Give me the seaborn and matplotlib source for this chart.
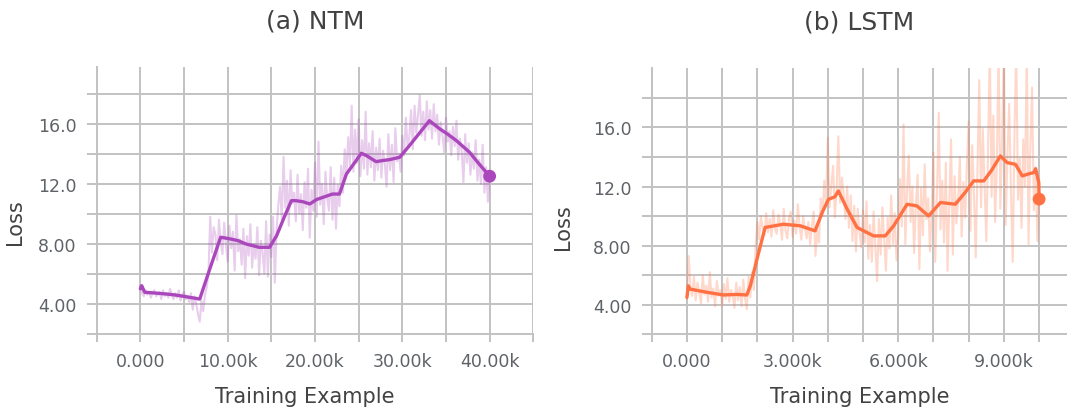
import numpy as np
import pandas as pd
import matplotlib
matplotlib.use("Agg")
import matplotlib.pyplot as plt
from matplotlib.ticker import FixedLocator, FixedFormatter
import seaborn as sns

# ---------------- data ----------------
# NTM: raw loss samples (every 200 examples) and the smoothed curve
ntm_raw_step = list(range(0, 40001, 200))
ntm_raw_loss = [
    5.2, 4.7, 4.5, 4.9, 4.6, 4.8, 4.4, 4.7, 4.9, 4.5,
    4.6, 4.8, 4.3, 4.9, 4.5, 4.7, 4.4, 5.0, 4.6, 4.3,
    4.7, 4.4, 4.9, 4.2, 4.6, 4.8, 4.3, 4.5, 4.1, 4.7,
    3.6, 4.5, 4.0, 3.3, 2.8, 4.2, 3.5, 4.6, 5.1, 6.0,
    9.8, 7.4, 9.1, 8.6, 6.9, 9.6, 8.1, 7.3, 9.4, 8.0,
    6.8, 9.2, 7.7, 8.8, 6.2, 9.9, 7.5, 8.3, 6.6, 9.0,
    5.7, 8.5, 7.2, 9.3, 6.4, 8.0, 7.0, 9.1, 5.9, 8.2,
    7.4, 6.0, 9.5, 5.8, 8.6, 7.1, 9.8, 5.4, 8.9, 10.6,
    11.8, 9.6, 13.8, 10.4, 12.2, 9.2, 12.9, 10.7, 11.4, 9.5,
    12.6, 10.0, 11.3, 8.9, 12.1, 10.4, 13.0, 8.4, 11.6, 10.2,
    13.4, 9.8, 14.8, 10.6, 12.0, 9.3, 12.8, 11.0, 10.2, 13.1,
    9.6, 12.4, 9.0, 11.9, 10.5, 13.2, 11.4, 14.3, 12.6, 15.1,
    13.2, 17.2, 12.8, 15.6, 13.4, 16.3, 12.5, 14.9, 13.0, 16.8,
    12.6, 14.7, 13.1, 15.5, 12.2, 14.4, 12.9, 15.0, 12.4, 14.2,
    13.3, 11.8, 15.3, 12.9, 14.6, 12.1, 15.7, 13.5, 14.0, 12.8,
    15.2, 13.9, 16.4, 14.5, 15.1, 16.9, 14.3, 17.2, 15.4, 16.6,
    17.9, 15.2, 16.8, 14.9, 17.5, 15.6, 16.9, 15.0, 17.3, 15.5,
    16.6, 14.6, 16.1, 15.2, 14.1, 16.4, 14.8, 15.5, 13.9, 15.8,
    14.5, 16.2, 13.6, 15.0, 14.2, 12.1, 15.3, 13.4, 14.7, 12.6,
    14.1, 13.0, 14.9, 12.2, 13.6, 12.0, 14.6, 11.4, 13.1, 10.8,
    12.6,
]
ntm_smooth_step = [
    0, 150, 500, 1500, 2900, 4000, 5000, 6800, 8000, 9200,
    10200, 11200, 12100, 13600, 14800, 15600, 16500, 17300, 17800, 18600,
    19400, 20200, 20900, 22000, 22800, 23600, 24700, 25300, 25900, 27000,
    27800, 28500, 29700, 30800, 32000, 33100, 34300, 35200, 36200, 37700,
    38800, 40000,
]
ntm_smooth_loss = [
    5.0, 5.2, 4.76, 4.72, 4.65, 4.58, 4.49, 4.31, 6.4, 8.43,
    8.33, 8.2, 7.98, 7.76, 7.76, 8.53, 9.8, 10.87, 10.87, 10.8,
    10.65, 10.95, 11.09, 11.31, 11.31, 12.65, 13.53, 14.03, 13.87, 13.47,
    13.55, 13.6, 13.76, 14.53, 15.4, 16.2, 15.65, 15.3, 14.87, 14.09,
    13.31, 12.5,
]

# LSTM: raw loss samples (every 50 examples) and the smoothed curve
lstm_raw_step = list(range(0, 10001, 50))
lstm_raw_loss = [
    4.4, 7.3, 5.2, 4.6, 5.9, 4.3, 5.5, 4.8, 4.1, 6.0,
    4.7, 5.3, 4.2, 6.2, 4.5, 5.1, 3.9, 5.6, 4.6, 5.0,
    3.9, 5.4, 4.4, 5.8, 4.2, 5.0, 4.6, 3.8, 5.5, 4.3,
    5.2, 3.9, 5.7, 4.4, 3.7, 5.9, 4.5, 6.2, 5.0, 7.9,
    9.6, 8.4, 10.0, 9.2, 8.7, 10.2, 8.9, 9.8, 8.6, 10.4,
    9.1, 8.8, 10.1, 9.5, 8.4, 10.5, 9.0, 8.5, 9.9, 10.3,
    8.6, 9.7, 8.8, 10.8, 9.3, 8.4, 10.0, 9.1, 8.5, 9.6,
    8.1, 9.4, 10.3, 7.3, 9.0, 8.2, 11.2, 10.0, 12.4, 10.8,
    15.3, 10.6, 12.1, 13.4, 9.9, 11.8, 15.4, 10.9, 12.6, 11.5,
    9.8, 12.0, 9.2, 11.4, 8.3, 10.7, 7.6, 10.5, 8.9, 7.9,
    10.4, 8.2, 11.0, 7.1, 9.4, 6.9, 10.3, 8.0, 5.6, 9.8,
    7.4, 10.6, 8.5, 6.3, 9.9, 7.8, 11.4, 8.1, 10.2, 7.0,
    8.6, 12.5, 9.3, 16.2, 8.1, 11.7, 14.1, 9.6, 12.0, 7.5,
    10.8, 12.8, 6.4, 11.9, 8.7, 13.5, 9.8, 11.2, 7.6, 10.4,
    14.3, 6.9, 11.5, 17.0, 9.1, 12.4, 8.2, 13.6, 6.3, 10.9,
    15.2, 7.4, 12.7, 9.5, 11.1, 14.0, 8.6, 12.3, 9.9, 13.5,
    16.4, 9.0, 14.8, 11.6, 7.2, 13.1, 19.2, 10.6, 15.9, 12.2,
    8.3, 14.4, 21.5, 11.3, 16.8, 9.6, 13.7, 21.5, 10.5, 15.3,
    21.5, 9.4, 14.1, 17.6, 11.8, 6.9, 15.5, 21.5, 11.1, 13.9,
    9.2, 15.2, 12.0, 21.5, 8.1, 14.6, 18.7, 10.4, 13.3, 8.3,
    11.2,
]
lstm_smooth_step = [
    0, 40, 90, 570, 1040, 1400, 1700, 1800, 1990, 2220,
    2740, 3220, 3640, 3840, 4020, 4200, 4300, 4550, 4830, 5300,
    5630, 5870, 6250, 6530, 6860, 7200, 7620, 7900, 8140, 8430,
    8650, 8900, 9090, 9330, 9520, 9700, 9850, 9900, 9990, 10000,
]
lstm_smooth_loss = [
    4.5, 5.28, 5.06, 4.84, 4.66, 4.7, 4.66, 5.28, 7.09, 9.23,
    9.45, 9.34, 9.0, 10.24, 11.14, 11.3, 11.7, 10.47, 9.23, 8.66,
    8.66, 9.34, 10.8, 10.69, 10.01, 10.92, 10.8, 11.6, 12.38, 12.38,
    13.1, 14.07, 13.62, 13.5, 12.72, 12.85, 12.95, 13.2, 12.27, 11.15,
]

titles = ["(a) NTM", "(b) LSTM"]
ntm_xticks = list(range(-5000, 45001, 5000))
ntm_xlabels = ["", "0.000", "", "10.00k", "", "20.00k", "", "30.00k", "", "40.00k", ""]
lstm_xticks = list(range(-1000, 11001, 1000))
lstm_xlabels = ["", "0.000", "", "", "3.000k", "", "", "6.000k", "", "", "9.000k", "", ""]
yticks = [2, 4, 6, 8, 10, 12, 14, 16, 18]
ylabels = ["", "4.00", "", "8.00", "", "12.0", "", "16.0", ""]

# ---------------- style ----------------
sns.set_theme(style="whitegrid")
plt.rcParams["font.family"] = ["DejaVu Sans"]

GRID = "#c2c2c2"
TICKTXT = "#5f6368"
TXT = "#424242"
PURPLE = "#ab47bc"
ORANGE = "#ff7043"

fig = plt.figure(figsize=(10.67, 4.14), dpi=100)
W, H = 1067.0, 414.0
ax1 = fig.add_axes([96.7 / W, (H - 334.7) / H, 436.6 / W, 266.4 / H])
ax2 = fig.add_axes([651.7 / W, (H - 335.3) / H, 415.6 / W, 266.0 / H])


def draw(ax, raw_x, raw_y, sm_x, sm_y, color):
    raw = pd.DataFrame({"step": raw_x, "loss": raw_y})
    sm = pd.DataFrame({"step": sm_x, "loss": sm_y})
    # faint raw trace underneath, smoothed trace on top, dot at the last value
    sns.lineplot(data=raw, x="step", y="loss", ax=ax, color=color,
                 alpha=0.27, linewidth=1.5, estimator=None)
    sns.lineplot(data=sm, x="step", y="loss", ax=ax, color=color,
                 linewidth=2.4, estimator=None)
    sns.scatterplot(data=sm.tail(1), x="step", y="loss", ax=ax, color=color,
                    s=85, edgecolor="none", zorder=5)


def style(ax, title, xticks, xlabels, xlim, ylim, xlab_x, ylab_xy):
    ax.set_xlim(*xlim)
    ax.set_ylim(*ylim)
    ax.xaxis.set_major_locator(FixedLocator(xticks))
    ax.xaxis.set_major_formatter(FixedFormatter(xlabels))
    ax.yaxis.set_major_locator(FixedLocator(yticks))
    ax.yaxis.set_major_formatter(FixedFormatter(ylabels))
    ax.grid(True, color=GRID, linewidth=1.4)
    ax.set_axisbelow(True)
    for side in ("top", "right"):
        ax.spines[side].set_visible(False)
    for side in ("left", "bottom"):
        ax.spines[side].set_color(GRID)
        ax.spines[side].set_linewidth(1.4)
    ax.tick_params(axis="x", direction="out", length=6, width=1.4, color=GRID,
                   pad=7, labelsize=12.5, labelcolor=TICKTXT, bottom=True)
    ax.tick_params(axis="y", direction="out", length=7.5, width=1.4, color=GRID,
                   pad=7, labelsize=12.5, labelcolor=TICKTXT, left=True)
    ax.set_title(title, fontsize=18, color=TXT, pad=29)
    ax.set_xlabel("Training Example", fontsize=15, color=TXT)
    ax.set_ylabel("Loss", fontsize=15, color=TXT)
    ax.xaxis.set_label_coords(xlab_x, -0.195)
    ax.yaxis.set_label_coords(*ylab_xy)


draw(ax1, ntm_raw_step, ntm_raw_loss, ntm_smooth_step, ntm_smooth_loss, PURPLE)
draw(ax2, lstm_raw_step, lstm_raw_loss, lstm_smooth_step, lstm_smooth_loss, ORANGE)

style(ax1, titles[0], ntm_xticks, ntm_xlabels, (-5000, 45000), (2, 19.76),
      0.477, (-0.164, 0.423))
style(ax2, titles[1], lstm_xticks, lstm_xlabels, (-1000, 10800), (2, 20),
      0.5, (-0.189, 0.408))

fig.savefig("out.png", dpi=100, facecolor="white")
